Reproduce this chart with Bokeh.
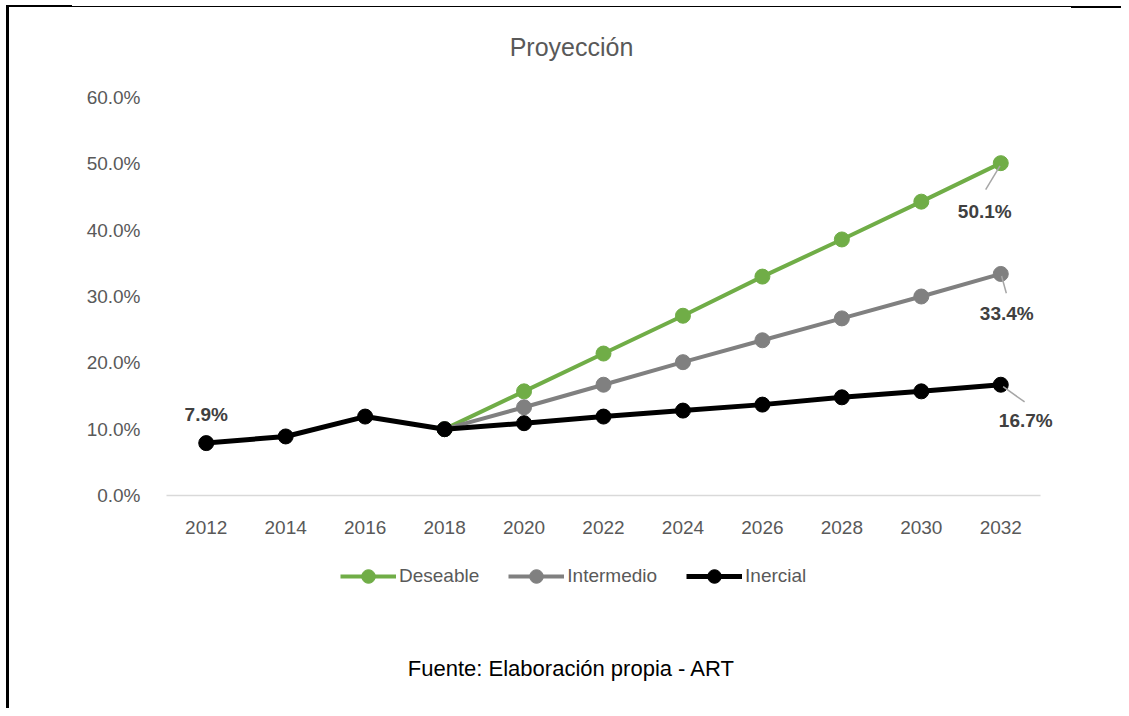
from bokeh.plotting import figure
from bokeh.models import (FactorRange, Range1d, Label, Legend, LegendItem,
                          PrintfTickFormatter, FixedTicker)
from bokeh.embed import file_html
from bokeh.resources import INLINE

# ---- data ----
years = ["2012", "2014", "2016", "2018", "2020", "2022", "2024",
         "2026", "2028", "2030", "2032"]
proj_years = years[3:]
deseable = [10.0, 15.7, 21.4, 27.1, 33.0, 38.6, 44.3, 50.1]
intermedio = [10.0, 13.3, 16.7, 20.1, 23.4, 26.7, 30.0, 33.4]
inercial = [7.9, 8.9, 11.9, 10.0, 10.9, 11.9, 12.8, 13.7, 14.8, 15.7, 16.7]
y_ticks = [0, 10, 20, 30, 40, 50, 60]

GREEN = "#70ad47"
GRAY = "#808080"
BLACK = "#000000"
TXT = "#595959"
FONT = "Liberation Sans"

# ---- layout (pixels) ----
W, H = 1121, 708
Y0_PX, Y60_PX = 495, 97          # canvas rows of 0% and 60%
X_L, X_R = 166, 1040             # canvas columns of the category band
pct_per_px = 60.0 / (Y0_PX - Y60_PX)
y_start = -(H - Y0_PX) * pct_per_px
y_end = 60 + Y60_PX * pct_per_px
pad_px = W - X_R                 # symmetric padding around the categories
frame_left = X_L - pad_px
cat_px = (X_R - X_L) / len(years)
x_pad = pad_px / cat_px

p = figure(width=W, height=H,
           x_range=FactorRange(*years, range_padding=x_pad,
                               range_padding_units="absolute"),
           y_range=Range1d(y_start, y_end), output_backend="svg",
           toolbar_location=None,
           min_border_left=frame_left, min_border_right=0,
           min_border_top=0, min_border_bottom=0)
p.styles = {"background": (
    "linear-gradient(#000,#000) 6px 5px/66px 2px no-repeat, "
    "linear-gradient(#000,#000) 6px 6px/1065px 1px no-repeat, "
    "linear-gradient(#000,#000) 1071px 6px/50px 2px no-repeat, "
    "linear-gradient(#000,#000) 6px 6px/3px 702px no-repeat, #ffffff")}
p.border_fill_alpha = 0
p.background_fill_alpha = 0
p.outline_line_color = None
p.grid.visible = False

# axes
p.xaxis.fixed_location = 0
p.xaxis.axis_line_color = None
p.xaxis.major_tick_line_color = None
p.xaxis.minor_tick_line_color = None
p.xaxis.major_label_text_font = FONT
p.xaxis.major_label_text_font_size = "19px"
p.xaxis.major_label_text_color = TXT
p.xaxis.major_label_standoff = 19

p.yaxis.fixed_location = 0
p.yaxis.axis_line_color = None
p.yaxis.major_tick_line_color = None
p.yaxis.minor_tick_line_color = None
p.yaxis.ticker = FixedTicker(ticks=y_ticks)
p.yaxis.formatter = PrintfTickFormatter(format="%.1f%%")
p.yaxis.major_label_text_font = FONT
p.yaxis.major_label_text_font_size = "19px"
p.yaxis.major_label_text_color = TXT
p.yaxis.major_label_standoff = 20

# category-axis baseline across the category band only
p.segment(x0=[0], y0=[0], x1=[len(years)], y1=[0],
          line_color="#d9d9d9", line_width=1.5)

# series
rd_l = p.line(proj_years, deseable, line_color=GREEN, line_width=4)
rd_c = p.scatter(proj_years, deseable, size=15, fill_color=GREEN, line_color=GREEN)
ri_l = p.line(proj_years, intermedio, line_color=GRAY, line_width=4)
ri_c = p.scatter(proj_years, intermedio, size=15, fill_color=GRAY, line_color=GRAY)
rn_l = p.line(years, inercial, line_color=BLACK, line_width=5)
rn_c = p.scatter(years, inercial, size=15, fill_color=BLACK, line_color=BLACK)

# leader lines (offsets in category units / percent units)
xl = len(years) - 0.5
p.segment(x0=[xl - 0.01, xl + 0.01, xl + 0.03],
          y0=[deseable[-1] - 0.4, intermedio[-1] - 0.3, inercial[-1] - 0.3],
          x1=[xl - 0.19, xl + 0.07, xl + 0.30],
          y1=[deseable[-1] - 4.0, intermedio[-1] - 2.9, inercial[-1] - 2.6],
          line_color="#a6a6a6", line_width=1.5)

# data labels
def dlabel(x, y, txt, dx, dy):
    p.add_layout(Label(x=x, y=y, text=txt, x_offset=dx, y_offset=dy,
                       text_font=FONT, text_font_size="19px",
                       text_font_style="bold", text_color="#404040",
                       text_align="center", text_baseline="middle"))

dlabel(0.5, inercial[0], "%.1f%%" % inercial[0], 0, 29)
dlabel(xl, deseable[-1], "%.1f%%" % deseable[-1], -16, -48)
dlabel(xl, intermedio[-1], "%.1f%%" % intermedio[-1], 6, -40)
dlabel(xl, inercial[-1], "%.1f%%" % inercial[-1], 25, -36)

# legend (location measured from the frame's bottom-left)
legend = Legend(items=[LegendItem(label="Deseable", renderers=[rd_l, rd_c]),
                       LegendItem(label="Intermedio", renderers=[ri_l, ri_c]),
                       LegendItem(label="Inercial", renderers=[rn_l, rn_c])],
                orientation="horizontal", location=(340 - frame_left, H - 593),
                glyph_width=56, glyph_height=34, label_standoff=3,
                spacing=29, padding=0, margin=0,
                label_text_font=FONT, label_text_font_size="19px",
                label_text_color=TXT, border_line_color=None,
                background_fill_alpha=0)
p.add_layout(legend, "center")

# title and source (screen units measured from the frame's bottom-left)
p.add_layout(Label(x=571 - frame_left, y=H - 46, x_units="screen", y_units="screen",
                   text="Proyección", text_font=FONT, text_font_size="25px",
                   text_color=TXT, text_align="center", text_baseline="middle"))
p.add_layout(Label(x=571 - frame_left, y=H - 668, x_units="screen", y_units="screen",
                   text="Fuente: Elaboración propia - ART", text_font=FONT,
                   text_font_size="22px", text_color="#000000",
                   text_align="center", text_baseline="middle"))

open("out.html", "w").write(file_html(p, INLINE))
